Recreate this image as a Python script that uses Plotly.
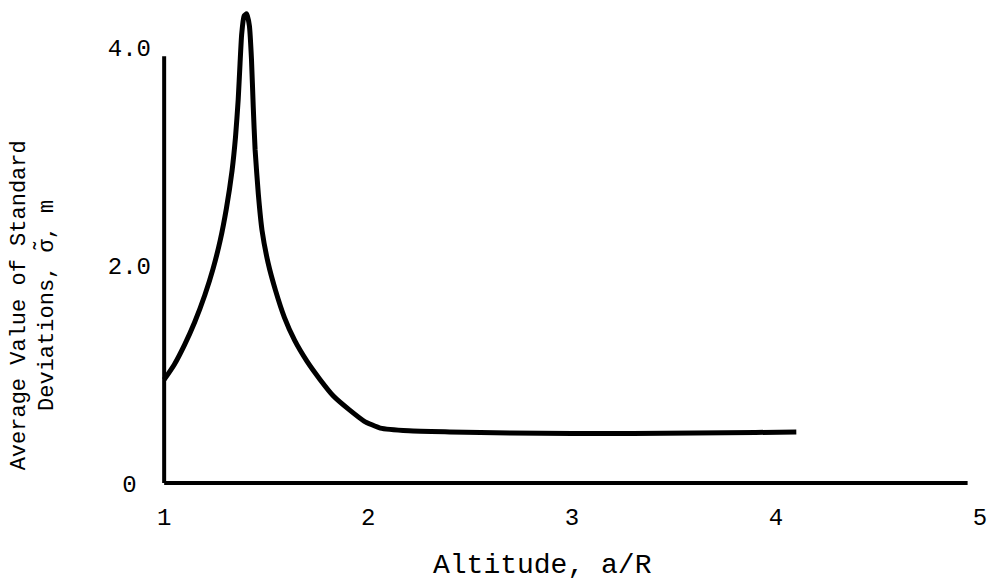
import plotly.graph_objects as go

# Data
altitude = [1.00, 1.05, 1.10, 1.15, 1.20, 1.24, 1.275, 1.305, 1.333, 1.350, 1.363, 1.372,
            1.380, 1.392, 1.405, 1.418, 1.428, 1.437, 1.446, 1.462, 1.480, 1.510, 1.546,
            1.590, 1.640, 1.700, 1.765, 1.830, 1.910, 1.980, 2.060, 2.200, 2.400, 2.700,
            3.000, 3.300, 3.600, 3.900, 4.100]
sigma = [0.95, 1.09, 1.27, 1.48, 1.73, 1.97, 2.23, 2.52, 2.87, 3.18, 3.52, 3.85,
         4.12, 4.29, 4.31, 4.20, 3.90, 3.45, 3.06, 2.65, 2.32, 2.02, 1.77,
         1.52, 1.31, 1.12, 0.95, 0.80, 0.67, 0.57, 0.505, 0.48, 0.47, 0.46,
         0.455, 0.455, 0.46, 0.465, 0.47]

x_ticks = [1, 2, 3, 4, 5]
x_tick_labels = ["1", "2", "3", "4", "5"]
y_ticks = [0, 2, 4]
y_tick_labels = ["0\u00a0", "2.0", "4.0"]

x_title = "Altitude, a/R"
y_title = "Average Value of Standard<br>Deviations, σ̃, m"

FONT = "Liberation Mono, Courier New, monospace"

fig = go.Figure()
fig.add_trace(go.Scatter(
    x=altitude, y=sigma, mode="lines",
    line=dict(color="black", width=5, shape="spline", smoothing=0.5),
    cliponaxis=False, showlegend=False, hoverinfo="skip"))

# axis lines as drawn in the reference
fig.add_shape(type="line", xref="x", yref="y", x0=1, x1=1, y0=0, y1=3.92,
              line=dict(color="black", width=4))
fig.add_shape(type="line", xref="x", yref="y", x0=1, x1=4.94, y0=0, y1=0,
              line=dict(color="black", width=4))

fig.update_layout(
    width=994, height=584,
    margin=dict(l=156, r=6, t=4, b=90),
    paper_bgcolor="white", plot_bgcolor="white",
    font=dict(family=FONT, color="black"),
    xaxis=dict(range=[0.96, 5.04], showgrid=False, zeroline=False, showline=False,
               tickvals=x_ticks, ticktext=x_tick_labels, ticks="",
               tickfont=dict(size=24, family=FONT), ticklabelstandoff=6),
    yaxis=dict(range=[-0.1, 4.4], showgrid=False, zeroline=False, showline=False,
               tickvals=y_ticks, ticktext=y_tick_labels, ticks="",
               tickfont=dict(size=24, family=FONT), ticklabelstandoff=4),
    annotations=[
        dict(text=x_title, xref="paper", yref="paper", x=0.465, y=0,
             xanchor="center", yanchor="middle", yshift=-71, showarrow=False,
             font=dict(size=28, family=FONT)),
        dict(text=y_title, xref="paper", yref="paper", x=0, y=0.385,
             xanchor="center", yanchor="middle", xshift=-122, textangle=-90,
             showarrow=False, font=dict(size=22, family=FONT)),
    ],
)

fig.write_html("out.html")
